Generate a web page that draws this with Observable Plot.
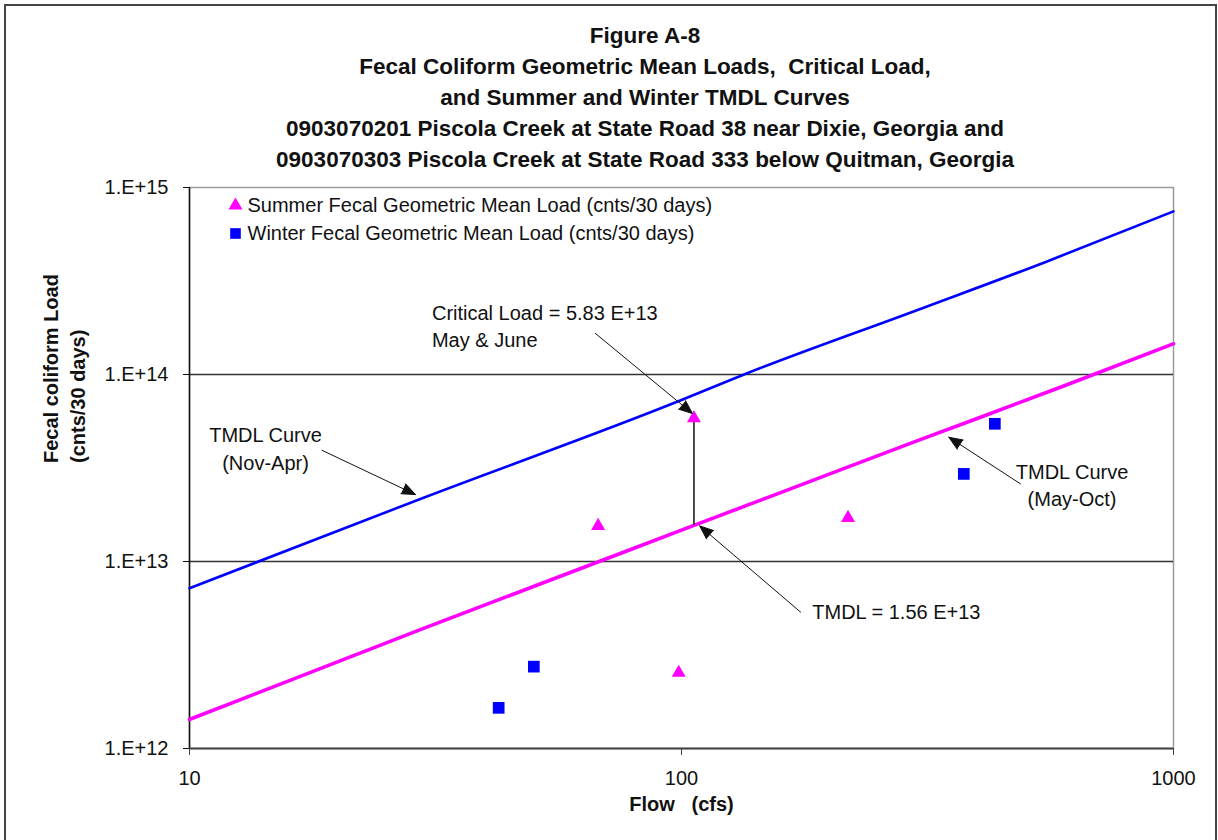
<!DOCTYPE html>
<html>
<head>
<meta charset="utf-8">
<script src="https://cdn.jsdelivr.net/npm/d3@7"></script>
<script src="https://cdn.jsdelivr.net/npm/@observablehq/plot@0.6"></script>
<style>
  html, body { margin: 0; padding: 0; background: #fff; }
  body { width: 1218px; height: 840px; position: relative; overflow: hidden; font-family: "Liberation Sans", Arial, sans-serif; }
  #frame { position: absolute; left: 4px; top: 4px; width: 1213px; height: 860px; border: 2px solid #444; box-sizing: border-box; z-index: 5; pointer-events: none; }
  #title { position: absolute; left: 0; top: 0; width: 1218px; padding-left: 72px; padding-top: 19.5px; box-sizing: border-box;
           text-align: center; font-weight: bold; font-size: 22.5px; line-height: 31.2px; color: #111; }
  #chart { position: absolute; left: 0; top: 170px; }
</style>
</head>
<body>
<div id="title">
  <div>Figure A-8</div>
  <div>Fecal Coliform Geometric Mean Loads,&nbsp; Critical Load,</div>
  <div>and Summer and Winter TMDL Curves</div>
  <div>0903070201 Piscola Creek at State Road 38 near Dixie, Georgia and</div>
  <div>0903070303 Piscola Creek at State Road 333 below Quitman, Georgia</div>
</div>
<div id="chart"></div>
<div id="frame"></div>
<script>
// ---- data (flow in cfs, load in counts / 30 days) ----
const summerFlow = [67.7, 106, 98.7, 218];
const summerLoad = [1.55e13, 5.83e13, 2.54e12, 1.71e13];

const winterFlow = [42.5, 50.1, 374.8, 433.4];
const winterLoad = [1.65e12, 2.74e12, 2.94e13, 5.45e13];

const winterCurveFlow = [10, 30, 100, 134, 300, 550, 1000];
const winterCurveLoad = [7.2e12, 2.2e13, 7.3e13, 1.0e14, 2.2e14, 4.0e14, 7.45e14];

const summerCurveFlow = [10, 30, 68, 106, 160, 300, 600, 1000];
const summerCurveLoad = [1.43e12, 4.4e12, 1.0e13, 1.56e13, 2.35e13, 4.4e13, 8.7e13, 1.46e14];

const criticalFlow = 106;
const criticalLoad = 5.83e13;
const tmdlLoad = 1.56e13;

const xTicks = [10, 100, 1000];
const yTicks = [1e12, 1e13, 1e14, 1e15];
const gridLoads = [1e13, 1e14];

const legendLabels = [
  "Summer Fecal Geometric Mean Load (cnts/30 days)",
  "Winter Fecal Geometric Mean Load (cnts/30 days)"
];

// annotation labels (left-anchored)
const noteLeftText = ["Critical Load = 5.83 E+13\nMay & June", "TMDL = 1.56 E+13"];
const noteLeftFlow = [31.1, 184.4];
const noteLeftLoad = [1.84e14, 5.47e12];
// annotation labels (centred)
const noteMidText = ["TMDL Curve\n(Nov-Apr)", "TMDL Curve\n(May-Oct)"];
const noteMidFlow = [14.27, 622];
const noteMidLoad = [4.09e13, 2.60e13];

// annotation arrows
const arrowFromFlow = [66.8, 174.6, 18.6, 488.7];
const arrowFromLoad = [1.66e14, 5.36e12, 3.93e13, 2.60e13];
const arrowToFlow = [105.3, 108.9, 28.8, 349.4];
const arrowToLoad = [6.18e13, 1.55e13, 2.28e13, 4.62e13];

// ---- tables built from arrays ----
const summer = summerFlow.map((f, i) => ({flow: f, load: summerLoad[i]}));
const winter = winterFlow.map((f, i) => ({flow: f, load: winterLoad[i]}));
const winterCurve = winterCurveFlow.map((f, i) => ({flow: f, load: winterCurveLoad[i]}));
const summerCurve = summerCurveFlow.map((f, i) => ({flow: f, load: summerCurveLoad[i]}));
const notesLeft = noteLeftText.map((t, i) => ({text: t, flow: noteLeftFlow[i], load: noteLeftLoad[i]}));
const notesMid = noteMidText.map((t, i) => ({text: t, flow: noteMidFlow[i], load: noteMidLoad[i]}));
const arrows = arrowFromFlow.map((f, i) => ({x1: f, y1: arrowFromLoad[i], x2: arrowToFlow[i], y2: arrowToLoad[i]}));

const MAGENTA = "#ff00ff";
const BLUE = "#0000ff";

const chart = Plot.plot({
  width: 1218,
  height: 660,
  marginTop: 17,
  marginBottom: 82,
  marginLeft: 189,
  marginRight: 45,
  style: {fontFamily: "'Liberation Sans', Arial, sans-serif", fontSize: "20px", color: "#111", background: "none", overflow: "visible"},
  x: {type: "log", domain: [10, 1000]},
  y: {type: "log", domain: [1e12, 1e15]},
  marks: [
    Plot.frame({stroke: "#9a9a9a", strokeWidth: 1.5}),
    Plot.ruleY(gridLoads, {stroke: "#333", strokeWidth: 1.5}),
    Plot.ruleX([10], {stroke: "#111", strokeWidth: 1.5}),
    Plot.ruleY([1e12], {stroke: "#444", strokeWidth: 2}),
    Plot.axisY({ticks: yTicks, tickFormat: d => `1.E+${Math.round(Math.log10(d))}`, tickSize: 6, tickPadding: 15, fontSize: 20, label: null, stroke: "#111"}),
    Plot.axisX({ticks: xTicks, tickFormat: d => String(d), tickSize: 7, tickPadding: 15, fontSize: 20, label: null, stroke: "#444"}),
    Plot.text(["Fecal coliform Load\n(cnts/30 days)"], {frameAnchor: "left", dx: -127, dy: -5, rotate: -90, fontWeight: "bold", fontSize: 20, lineHeight: 1.35, fill: "#111"}),
    Plot.text(["Flow\u00a0\u00a0\u00a0(cfs)"], {frameAnchor: "bottom", dy: 62, fontWeight: "bold", fontSize: 20, fill: "#111"}),
    // TMDL curves
    Plot.line(winterCurve, {x: "flow", y: "load", stroke: BLUE, strokeWidth: 2.6, curve: "monotone-x"}),
    Plot.line(summerCurve, {x: "flow", y: "load", stroke: MAGENTA, strokeWidth: 3.6, curve: "monotone-x"}),
    // critical-to-TMDL connector
    Plot.ruleX([criticalFlow], {y1: tmdlLoad, y2: criticalLoad, stroke: "#111", strokeWidth: 1.5}),
    // observations
    Plot.dot(winter, {x: "flow", y: "load", symbol: "square", r: 6.6, fill: BLUE, stroke: "none"}),
    Plot.dot(summer, {x: "flow", y: "load", symbol: "triangle", r: 5.2, fill: MAGENTA, stroke: "none"}),
    // annotations
    Plot.arrow(arrows, {x1: "x1", y1: "y1", x2: "x2", y2: "y2", stroke: "#111", fill: "#111", strokeWidth: 1, headLength: 22, headAngle: 44, strokeMiterlimit: 10}),
    Plot.text(notesLeft, {x: "flow", y: "load", text: "text", textAnchor: "start", lineHeight: 1.37, fontSize: 20, fill: "#111"}),
    Plot.text(notesMid, {x: "flow", y: "load", text: "text", textAnchor: "middle", lineHeight: 1.37, fontSize: 20, fill: "#111"}),
    // legend inside the plot frame
    Plot.dot([legendLabels[0]], {frameAnchor: "top-left", dx: 46, dy: 18, symbol: "triangle", r: 5.2, fill: MAGENTA, stroke: "none"}),
    Plot.dot([legendLabels[1]], {frameAnchor: "top-left", dx: 46, dy: 46, symbol: "square", r: 6, fill: BLUE, stroke: "none"}),
    Plot.text([legendLabels[0]], {frameAnchor: "top-left", lineAnchor: "middle", dx: 58, dy: 18, textAnchor: "start", fontSize: 20, fill: "#111"}),
    Plot.text([legendLabels[1]], {frameAnchor: "top-left", lineAnchor: "middle", dx: 58, dy: 46, textAnchor: "start", fontSize: 20, fill: "#111"})
  ]
});
document.getElementById("chart").appendChild(chart);
</script>
</body>
</html>
